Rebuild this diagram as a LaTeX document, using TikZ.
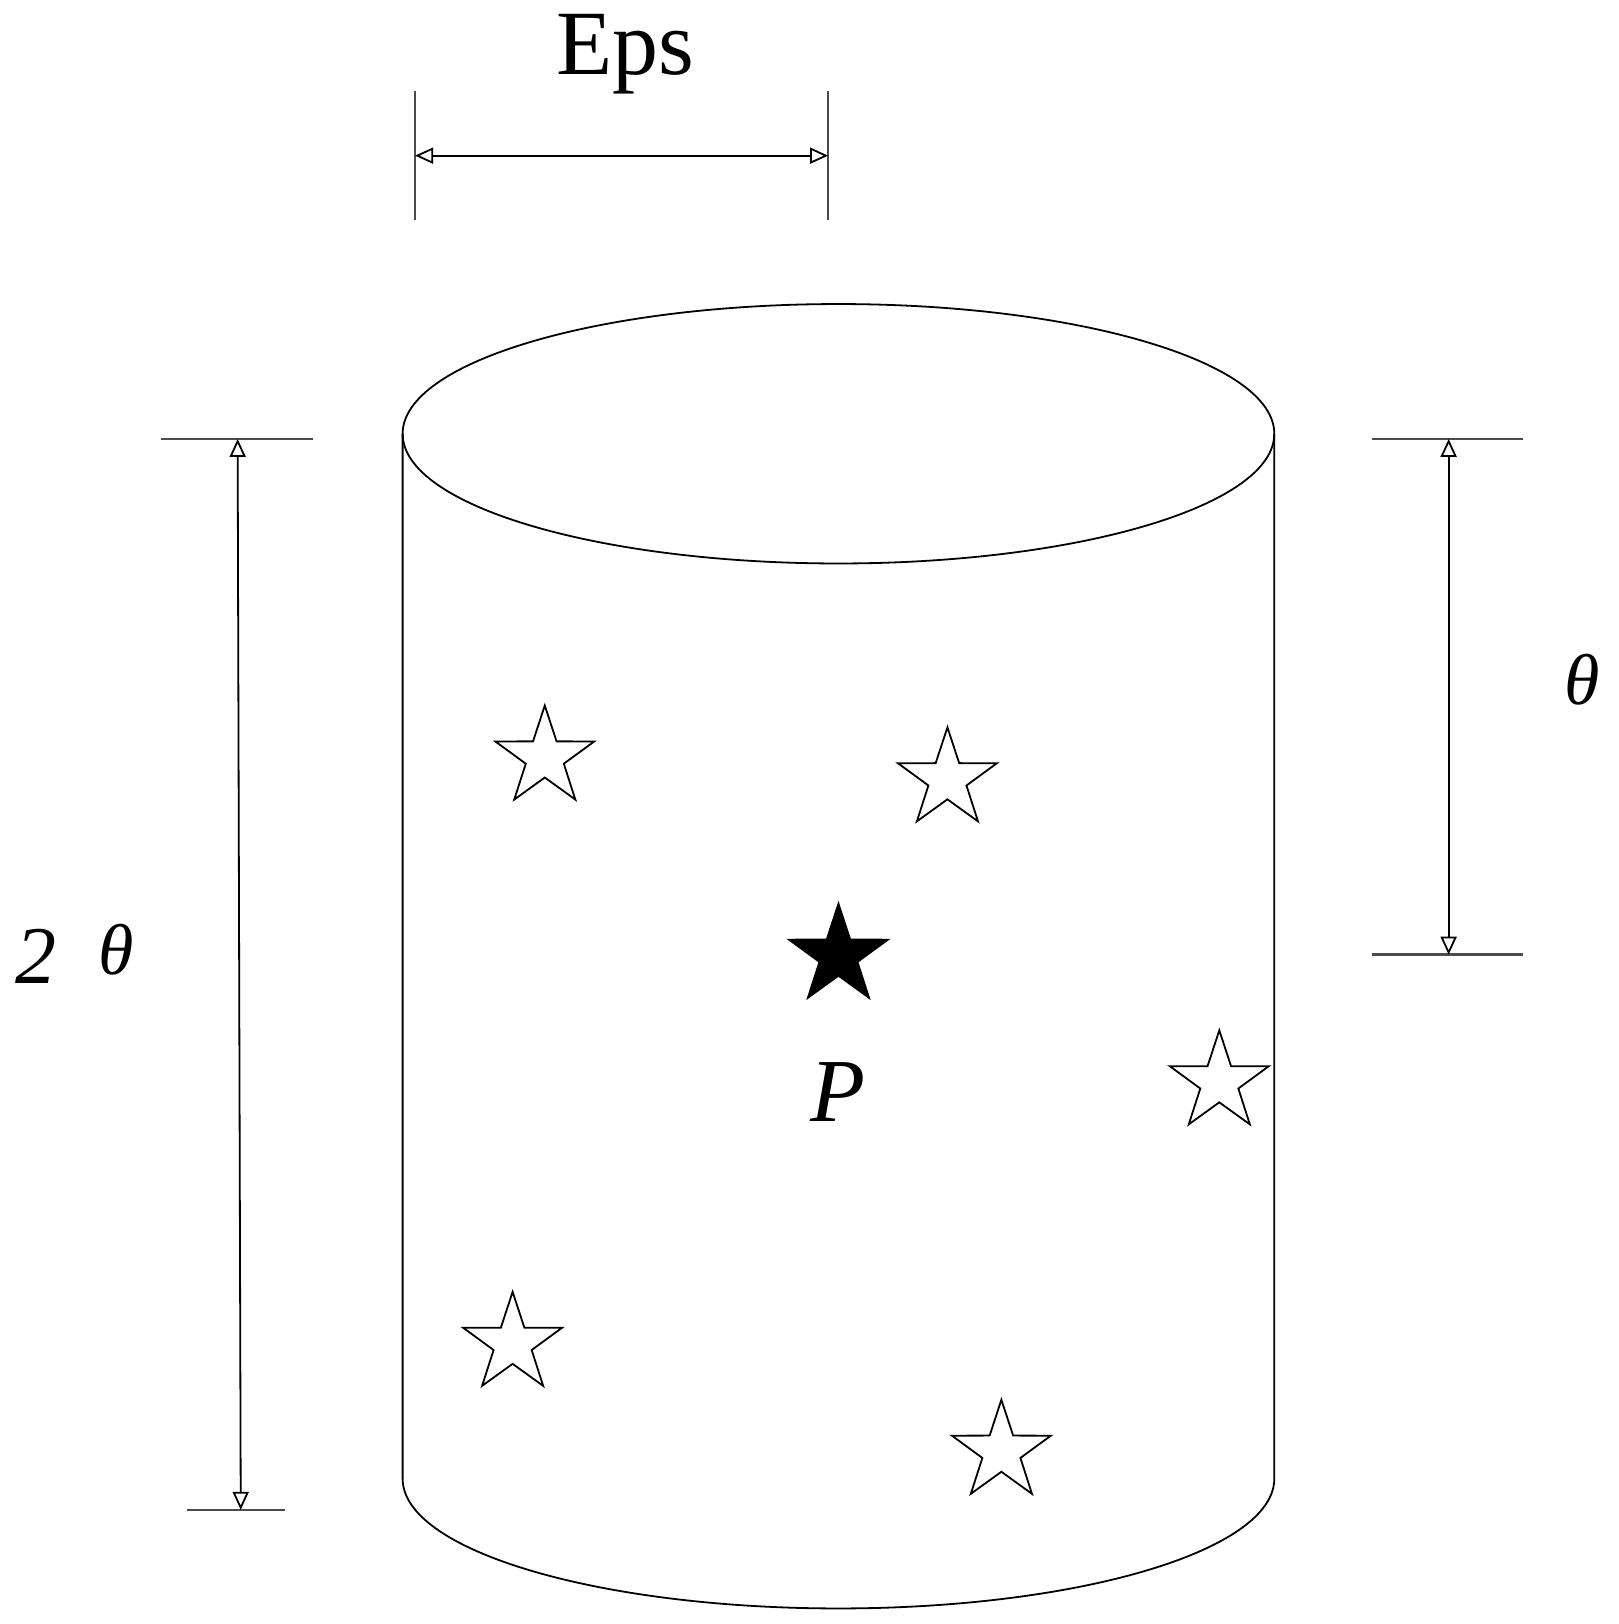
\documentclass[tikz,border=0pt]{standalone}
\usepackage{fontspec}
\setmainfont{Liberation Serif}
\usetikzlibrary{arrows.meta,shapes.geometric}
\begin{document}
\begin{tikzpicture}[x=1.038pt,y=-1.038pt,line width=1.8pt,
  dimarr/.style={{Triangle[open,length=18pt,width=16pt]}-{Triangle[open,length=18pt,width=16pt]}},
  tick/.style={draw=black!70,line width=2.6pt},
  st/.style={star,star points=5,star point ratio=2.6,minimum size=104pt,inner sep=0pt,draw,line width=1.8pt}]
\useasboundingbox (0,0) rectangle (1560,1565);
% cylinder
\draw (808,418) ellipse [x radius=420, y radius=125];
\draw (388,418) -- (388,1425) arc[start angle=180,end angle=0,x radius=420,y radius=125] -- (1228,418);
% Eps dimension
\coordinate (e1) at (400,150); \coordinate (e2) at (798,150);
\draw[tick] (400,88) -- (400,212); \draw[tick] (798,88) -- (798,212);
\draw[dimarr] (e1) -- (e2);
\node (eps) at (603,52) {\fontsize{92}{100}\selectfont Eps};
% left 2theta
\draw[tick] (155,423) -- (302,423); \draw[tick] (180,1455) -- (275,1455);
\coordinate (l1) at (229,423); \coordinate (l2) at (232,1455);
\draw[dimarr] (l1) -- (l2);
\node (two) at (35,922) {\fontsize{82}{90}\selectfont\itshape 2};
\node (th1) at (112,915) {\fontsize{72}{80}\selectfont\itshape θ};
% right theta
\draw[tick] (1322,423) -- (1468,423); \draw[tick] (1322,920) -- (1468,920);
\coordinate (r1) at (1396,423); \coordinate (r2) at (1396,920);
\draw[dimarr] (r1) -- (r2);
\node (th2) at (1525,655) {\fontsize{72}{80}\selectfont\itshape θ};
% stars
\node[st] (s1) at (525,730) {};
\node[st] (s2) at (913,751) {};
\node[st,fill=black] (p) at (808,921) {};
\node[st] (s3) at (1175,1043) {};
\node[st] (s4) at (494,1295) {};
\node[st] (s5) at (965,1399) {};
\node (plab) at (808,1052) {\fontsize{90}{100}\selectfont\itshape P};
\end{tikzpicture}
\end{document}
